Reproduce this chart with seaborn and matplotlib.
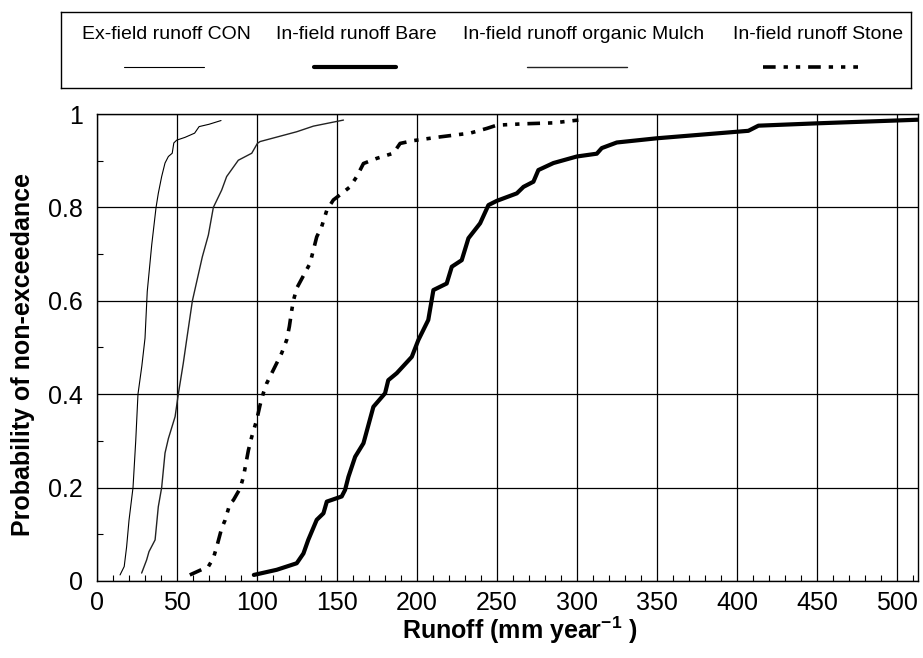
import matplotlib
matplotlib.use("Agg")
import matplotlib.pyplot as plt
from matplotlib.lines import Line2D
from matplotlib.ticker import MultipleLocator
import seaborn as sns

# Empirical non-exceedance curves of annual runoff (mm/year)
con_runoff = [14.4, 17.0, 18.5, 20.0, 22.5, 24.2, 25.6, 28.0, 30.0, 31.4, 34.2, 36.9,
              38.3, 40.4, 42.5, 44.6, 47.0, 48.0, 49.8, 55.0, 61.0, 63.8, 70.0, 77.5]
con_prob = [0.013, 0.031, 0.073, 0.13, 0.20, 0.30, 0.40, 0.46, 0.52, 0.62, 0.72, 0.80,
            0.83, 0.866, 0.895, 0.909, 0.916, 0.938, 0.944, 0.950, 0.959, 0.973, 0.978, 0.986]

bare_runoff = [98.0, 112.3, 124.8, 129.0, 132.0, 137.3, 141.5, 143.6, 152.9, 155.0, 157.1,
               161.3, 166.5, 172.7, 180.0, 182.0, 187.3, 196.7, 200.8, 207.0, 210.2, 218.5,
               221.7, 227.9, 232.1, 239.4, 244.6, 249.8, 262.3, 266.5, 272.7, 275.8, 285.2,
               299.8, 312.3, 315.4, 324.8, 349.8, 407.0, 413.3, 449.8, 515.0]
bare_prob = [0.013, 0.024, 0.038, 0.059, 0.088, 0.131, 0.145, 0.17, 0.181, 0.195, 0.223,
             0.266, 0.295, 0.373, 0.402, 0.43, 0.445, 0.48, 0.516, 0.559, 0.623, 0.637,
             0.673, 0.687, 0.734, 0.766, 0.805, 0.814, 0.830, 0.844, 0.855, 0.88, 0.895,
             0.909, 0.915, 0.927, 0.939, 0.948, 0.964, 0.975, 0.98, 0.988]

mulch_runoff = [27.9, 31.0, 32.5, 36.3, 38.3, 40.4, 42.5, 44.6, 48.8, 50.8, 53.9, 56.0,
                59.6, 65.8, 69.6, 72.7, 77.9, 81.0, 88.3, 96.7, 100.2, 101.9, 124.8, 135.2, 154.0]
mulch_prob = [0.017, 0.045, 0.063, 0.088, 0.159, 0.20, 0.274, 0.305, 0.352, 0.40, 0.466, 0.516,
              0.60, 0.694, 0.741, 0.80, 0.837, 0.866, 0.901, 0.916, 0.937, 0.941, 0.962, 0.974, 0.987]

stone_runoff = [58.0, 69.6, 72.7, 74.8, 77.9, 80.0, 83.1, 85.2, 89.4, 91.5, 94.6, 96.7,
                99.8, 101.9, 103.9, 106.0, 110.2, 115.4, 118.5, 120.2, 121.7, 122.7, 124.8,
                133.1, 137.3, 140.4, 143.6, 147.7, 151.9, 158.1, 162.3, 166.5, 174.8, 185.2,
                189.4, 197.7, 214.4, 233.1, 243.5, 249.8, 266.5, 285.2, 300.8]
stone_prob = [0.013, 0.031, 0.049, 0.073, 0.113, 0.13, 0.166, 0.173, 0.198, 0.223, 0.28, 0.309,
              0.345, 0.377, 0.402, 0.423, 0.452, 0.488, 0.516, 0.545, 0.58, 0.60, 0.627,
              0.68, 0.737, 0.759, 0.794, 0.816, 0.827, 0.844, 0.866, 0.894, 0.905, 0.916,
              0.937, 0.943, 0.951, 0.959, 0.969, 0.976, 0.979, 0.981, 0.987]

series_labels = ["Ex-field runoff CON", "In-field runoff Bare",
                 "In-field runoff organic Mulch", "In-field runoff Stone"]
x_ticks = [0, 50, 100, 150, 200, 250, 300, 350, 400, 450, 500]
y_ticks = [0, 0.2, 0.4, 0.6, 0.8, 1]
y_tick_labels = ["0", "0.2", "0.4", "0.6", "0.8", "1"]

sns.set_theme(style="white")
plt.rcParams["font.family"] = ["Liberation Sans", "DejaVu Sans"]
plt.rcParams["mathtext.fontset"] = "custom"
plt.rcParams["mathtext.rm"] = "Liberation Sans"
plt.rcParams["mathtext.bf"] = "Liberation Sans:bold"
plt.rcParams["text.color"] = "black"
plt.rcParams["axes.labelcolor"] = "black"

stone_dash = (0, (3.5, 2.2, 1.2, 2.2, 1.2, 2.2))
styles = [
    dict(color="black", linewidth=0.8, linestyle="-"),
    dict(color="black", linewidth=3.0, linestyle="-"),
    dict(color="#222222", linewidth=1.0, linestyle="-"),
    dict(color="black", linewidth=2.6, linestyle=stone_dash),
]

fig = plt.figure(figsize=(9.23, 6.58), dpi=100)
ax = fig.add_axes([97 / 923, 77 / 658, 821 / 923, 467 / 658])

data = [(con_runoff, con_prob), (bare_runoff, bare_prob),
        (mulch_runoff, mulch_prob), (stone_runoff, stone_prob)]
for (xs, ys), st in zip(data, styles):
    sns.lineplot(x=xs, y=ys, ax=ax, sort=False, estimator=None, **st)

ax.set_xlim(0, 513)
ax.set_ylim(0, 1)
ax.set_xticks(x_ticks)
ax.set_yticks(y_ticks)
ax.set_yticklabels(y_tick_labels)
ax.xaxis.set_minor_locator(MultipleLocator(10))
ax.yaxis.set_minor_locator(MultipleLocator(0.1))
ax.grid(True, which="major", color="black", linewidth=0.9)
ax.tick_params(axis="both", which="major", labelsize=18, length=0,
               colors="black", labelcolor="black")
ax.tick_params(axis="x", which="major", pad=7)
ax.tick_params(axis="y", which="major", pad=10)
ax.tick_params(axis="x", which="minor", direction="in", length=4, width=0.8, bottom=True, color="black")
ax.tick_params(axis="y", which="minor", direction="in", length=4, width=0.8, left=True, color="black")
for sp in ax.spines.values():
    sp.set_color("black")
    sp.set_linewidth(1.0)

ax.set_xlabel(r"Runoff (mm year$^{\mathbf{-1}}$ )", fontsize=18, fontweight="bold", color="black")
ax.xaxis.set_label_coords(0.515, -0.073)
ax.xaxis.label.set_va("top")
ax.set_ylabel("Probability of non-exceedance", fontsize=18, fontweight="bold", color="black")
ax.yaxis.set_label_coords(-0.076, 0.485)

# Legend panel: names on top, line samples underneath
lax = fig.add_axes([61 / 923, 1 - 88 / 658, 850 / 923, 76 / 658])
lax.set_xlim(61, 911)
lax.set_ylim(0, 1)
lax.set_xticks([])
lax.set_yticks([])
for sp in lax.spines.values():
    sp.set_color("black")
    sp.set_linewidth(1.0)
text_x = [166, 356, 584, 818]
line_spans = [(124, 204), (314, 396), (527, 627), (763, 858)]
for lab, tx, (x0, x1), st in zip(series_labels, text_x, line_spans, styles):
    lax.text(tx, 0.71, lab, ha="center", va="center", fontsize=14, color="black")
    lax.add_line(Line2D([x0, x1], [0.28, 0.28], **st))

fig.savefig("out.png", dpi=100)
